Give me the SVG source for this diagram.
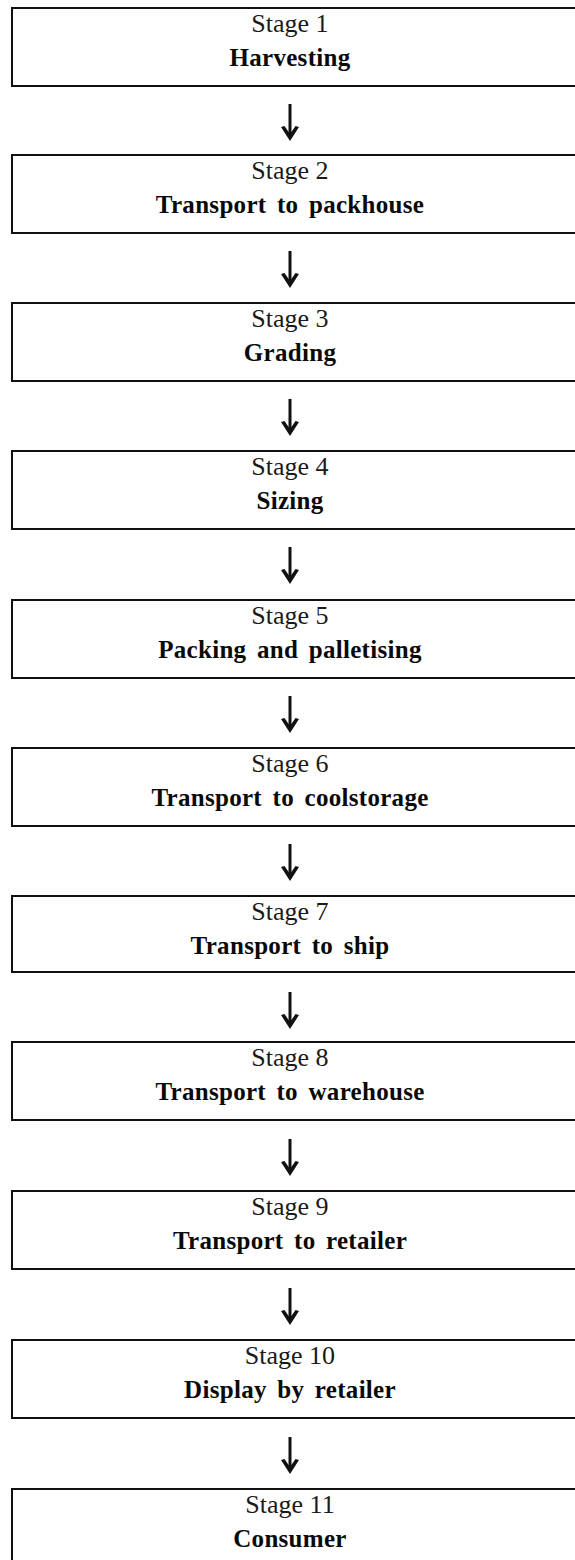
<svg xmlns="http://www.w3.org/2000/svg" width="575" height="1560" viewBox="0 0 575 1560">
<style>
.box{fill:#fff;stroke:#111;stroke-width:2}
.st{font-family:"Liberation Serif","Times New Roman",serif;font-size:26px;fill:#1a1a1a;text-anchor:middle}
.lb{font-family:"Liberation Serif","Times New Roman",serif;font-size:25px;font-weight:bold;fill:#0a0a0a;text-anchor:middle;word-spacing:4px;letter-spacing:0.3px}
.arr{stroke:#111;stroke-width:3;fill:none}
.head{fill:#111}
</style>
<defs>
<path id="hd" d="M281,127 L290,141 L299,127 L295.5,126 L290,134 L284.5,126Z"/>
</defs>
<rect width="575" height="1560" fill="#fff"/>
<g id="connectors">
<path class="arr" d="M290,104 V138"/>
<path class="arr" d="M290,104 V138" transform="translate(0,147)"/>
<path class="arr" d="M290,104 V138" transform="translate(0,295)"/>
<path class="arr" d="M290,104 V138" transform="translate(0,443)"/>
<path class="arr" d="M290,104 V138" transform="translate(0,592)"/>
<path class="arr" d="M290,104 V138" transform="translate(0,740)"/>
<path class="arr" d="M290,104 V138" transform="translate(0,888)"/>
<path class="arr" d="M290,104 V138" transform="translate(0,1035)"/>
<path class="arr" d="M290,104 V138" transform="translate(0,1184)"/>
<path class="arr" d="M290,104 V138" transform="translate(0,1333)"/>
<g class="head">
<use href="#hd"/>
<use href="#hd" transform="translate(0,147)"/>
<use href="#hd" transform="translate(0,295)"/>
<use href="#hd" transform="translate(0,443)"/>
<use href="#hd" transform="translate(0,592)"/>
<use href="#hd" transform="translate(0,740)"/>
<use href="#hd" transform="translate(0,888)"/>
<use href="#hd" transform="translate(0,1035)"/>
<use href="#hd" transform="translate(0,1184)"/>
<use href="#hd" transform="translate(0,1333)"/>
</g>
</g>
<g id="stage1" transform="translate(0,8)"><rect class="box" x="12" y="0" width="570" height="78"/><text class="st" x="290" y="24">Stage 1</text><text class="lb" x="290" y="58">Harvesting</text></g>
<g id="stage2" transform="translate(0,155)"><rect class="box" x="12" y="0" width="570" height="78"/><text class="st" x="290" y="24">Stage 2</text><text class="lb" x="290" y="58">Transport to packhouse</text></g>
<g id="stage3" transform="translate(0,303)"><rect class="box" x="12" y="0" width="570" height="78"/><text class="st" x="290" y="24">Stage 3</text><text class="lb" x="290" y="58">Grading</text></g>
<g id="stage4" transform="translate(0,451)"><rect class="box" x="12" y="0" width="570" height="78"/><text class="st" x="290" y="24">Stage 4</text><text class="lb" x="290" y="58">Sizing</text></g>
<g id="stage5" transform="translate(0,600)"><rect class="box" x="12" y="0" width="570" height="78"/><text class="st" x="290" y="24">Stage 5</text><text class="lb" x="290" y="58">Packing and palletising</text></g>
<g id="stage6" transform="translate(0,748)"><rect class="box" x="12" y="0" width="570" height="78"/><text class="st" x="290" y="24">Stage 6</text><text class="lb" x="290" y="58">Transport to coolstorage</text></g>
<g id="stage7" transform="translate(0,896)"><rect class="box" x="12" y="0" width="570" height="76"/><text class="st" x="290" y="24">Stage 7</text><text class="lb" x="290" y="58">Transport to ship</text></g>
<g id="stage8" transform="translate(0,1042)"><rect class="box" x="12" y="0" width="570" height="78"/><text class="st" x="290" y="24">Stage 8</text><text class="lb" x="290" y="58">Transport to warehouse</text></g>
<g id="stage9" transform="translate(0,1191)"><rect class="box" x="12" y="0" width="570" height="78"/><text class="st" x="290" y="24">Stage 9</text><text class="lb" x="290" y="58">Transport to retailer</text></g>
<g id="stage10" transform="translate(0,1340)"><rect class="box" x="12" y="0" width="570" height="78"/><text class="st" x="290" y="24">Stage 10</text><text class="lb" x="290" y="58">Display by retailer</text></g>
<g id="stage11" transform="translate(0,1489)"><rect class="box" x="12" y="0" width="570" height="90"/><text class="st" x="290" y="24">Stage 11</text><text class="lb" x="290" y="58">Consumer</text></g>
</svg>
